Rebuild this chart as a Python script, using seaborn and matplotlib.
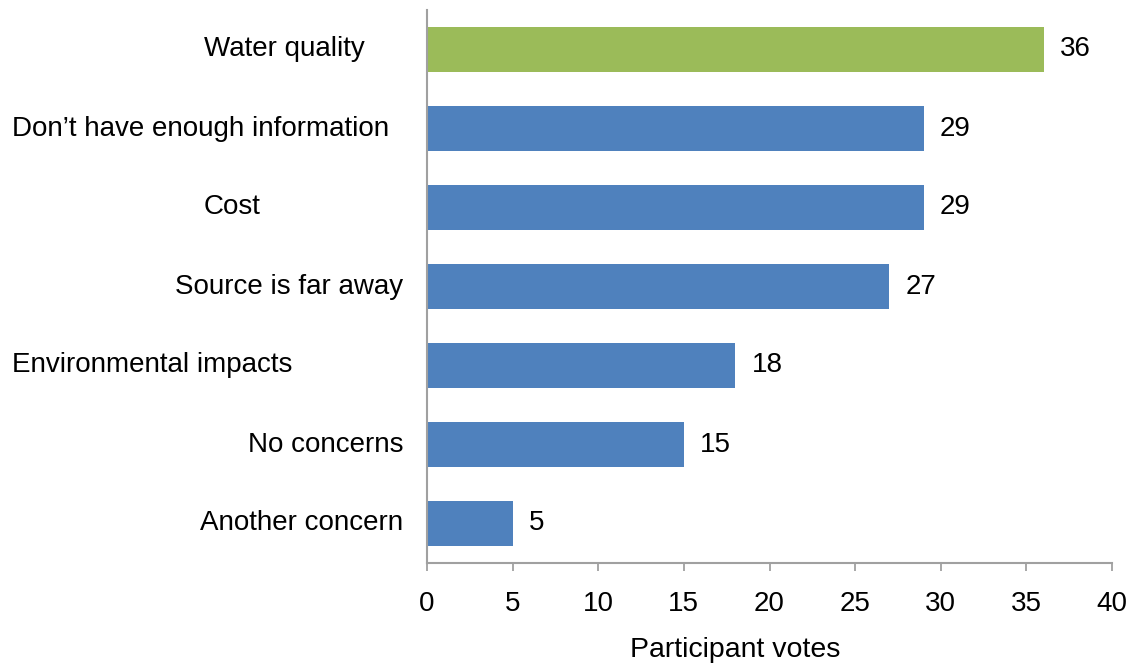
import matplotlib
matplotlib.use("Agg")
import matplotlib.pyplot as plt
import seaborn as sns
import pandas as pd
from matplotlib.transforms import blended_transform_factory

categories = ["Water quality", "Don\u2019t have enough information", "Cost",
              "Source is far away", "Environmental impacts", "No concerns",
              "Another concern"]
votes = [36, 29, 29, 27, 18, 15, 5]
label_align = ["left", "left", "left", "right", "left", "right", "right"]
label_xpos = [-0.3255, -0.6058, -0.3255, -0.035, -0.6058, -0.035, -0.035]
xticks = [0, 5, 10, 15, 20, 25, 30, 35, 40]
xlabel = "Participant votes"
colors = ["#9BBB59"] + ["#4F81BD"] * 6

sns.set_theme(style="white")
plt.rcParams["font.family"] = ["Liberation Sans", "DejaVu Sans"]
plt.rcParams["text.color"] = "black"

FS = 20
df = pd.DataFrame({"category": categories, "votes": votes})

fig = plt.figure(figsize=(11.34, 6.63), dpi=100)
ax = fig.add_axes([427/1134, 100/663, 685/1134, 553/663])
sns.barplot(data=df, x="votes", y="category", hue="category", palette=colors,
            legend=False, width=0.57, ax=ax, saturation=1, linewidth=0)

ax.set_xlim(0, 40)
ax.set_ylim(6.5, -0.5)
ax.set_xticks(xticks)
ax.set_xticklabels([str(t) for t in xticks], fontsize=FS, color="black")
ax.set_yticks(range(len(categories)))
ax.set_yticklabels([])
ax.tick_params(axis="y", length=0)
ax.tick_params(axis="x", direction="out", length=6, width=1.3, color="#A0A0A0",
               pad=14, labelcolor="black", bottom=True)
ax.set_xlabel(xlabel, fontsize=20.5, color="black")
ax.xaxis.set_label_coords(0.45, -0.134)
ax.set_ylabel("")

for s in ["top", "right"]:
    ax.spines[s].set_visible(False)
for s in ["left", "bottom"]:
    ax.spines[s].set_color("#A0A0A0")
    ax.spines[s].set_linewidth(1.5)

trans = blended_transform_factory(ax.transAxes, ax.transData)
for i, (cat, ha, xp) in enumerate(zip(categories, label_align, label_xpos)):
    ax.text(xp, i, cat, ha=ha, va="center", fontsize=FS, color="black", transform=trans)

for i, v in enumerate(votes):
    ax.text(v + 0.95, i, str(v), ha="left", va="center", fontsize=FS, color="black")

fig.savefig("out.png", dpi=100)
